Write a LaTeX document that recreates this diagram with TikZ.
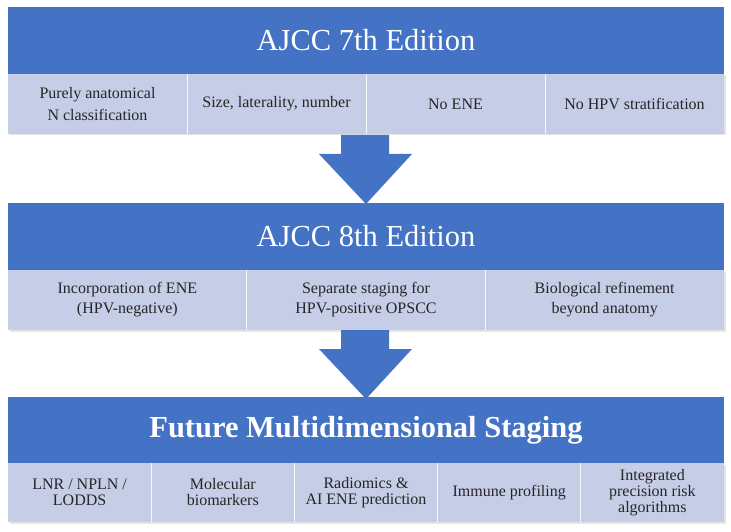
\documentclass[tikz,border=0pt]{standalone}
\usepackage{fontspec}
\setmainfont{Liberation Serif}
\usetikzlibrary{calc}
\definecolor{hdrblue}{HTML}{4472C4}
\definecolor{rowblue}{HTML}{C6CDE7}
\definecolor{txtgray}{HTML}{262626}
\begin{document}
\begin{tikzpicture}[x=1pt,y=-1pt,
  hdr/.style={fill=hdrblue, text=white, inner sep=0pt, outer sep=0pt, anchor=north west,
    minimum width=716pt, minimum height=67pt, font=\fontsize{30.5}{36}\selectfont},
  cell/.style={fill=rowblue, text=txtgray, inner sep=0pt, outer sep=0pt, anchor=north west,
    align=center, minimum height=60pt},
  c1/.style={cell, minimum width=179pt, font=\fontsize{16}{22}\selectfont},
  c2/.style={cell, minimum width=238.67pt, font=\fontsize{16}{20}\selectfont},
  c3/.style={cell, minimum width=143.2pt, minimum height=59pt, font=\fontsize{16}{16}\selectfont},
  divider/.style={draw=white!85!rowblue, line width=1pt},
  shadowbox/.style={fill=black!10},
  downarrow/.style={fill=hdrblue, draw=none}
]
\useasboundingbox (0,0) rectangle (731,532);

% ---- shadows
\fill[shadowbox] (9.5,75.5) rectangle (725.5,135.5);
\fill[shadowbox] (9.5,271.5) rectangle (725.5,331.5);
\fill[shadowbox] (9.5,464.5) rectangle (725.5,523.5);

% ---- AJCC 7th
\node[hdr] (h1) at (8,7) {AJCC 7th Edition};
\node[c1] (c11) at (8,74) {Purely anatomical\\N classification};
\node[c1] (c12) at (187,74) {Size, laterality, number};
\node[c1] (c13) at (366,74) {No ENE};
\node[c1] (c14) at (545,74) {No HPV stratification};
\foreach \n in {c11,c12,c13} \draw[divider] (\n.north east) -- (\n.south east);

% ---- AJCC 8th
\node[hdr] (h2) at (8,203) {AJCC 8th Edition};
\node[c2] (c21) at (8,270) {Incorporation of ENE\\(HPV-negative)};
\node[c2] (c22) at (246.67,270) {Separate staging for\\HPV-positive OPSCC};
\node[c2] (c23) at (485.33,270) {Biological refinement\\beyond anatomy};
\foreach \n in {c21,c22} \draw[divider] (\n.north east) -- (\n.south east);

% ---- Future
\node[hdr, minimum height=66pt, font=\fontsize{30.5}{36}\selectfont\bfseries] (h3) at (8,397) {Future Multidimensional Staging};
\node[c3] (c31) at (8,463) {LNR / NPLN /\\LODDS};
\node[c3] (c32) at (151.2,463) {Molecular\\biomarkers};
\node[c3] (c33) at (294.4,463) {Radiomics \&\\AI ENE prediction};
\node[c3] (c34) at (437.6,463) {Immune profiling};
\node[c3] (c35) at (580.8,463) {Integrated\\precision risk\\algorithms};
\foreach \n in {c31,c32,c33,c34} \draw[divider] (\n.north east) -- (\n.south east);

% ---- block arrows
\fill[downarrow] (341,135) -- (389,135) -- (389,154) -- (412,154) -- (366,204)
  -- (319,154) -- (341,154) -- cycle;
\fill[downarrow] (341,330) -- (389,330) -- (389,349) -- (412,349) -- (366,399)
  -- (319,349) -- (341,349) -- cycle;
\end{tikzpicture}
\end{document}
